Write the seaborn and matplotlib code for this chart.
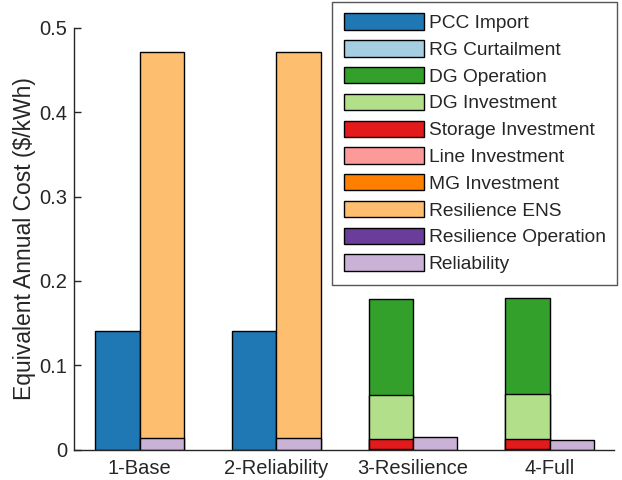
import numpy as np
import pandas as pd
import matplotlib
matplotlib.use("Agg")
import matplotlib.pyplot as plt
from matplotlib.patches import Patch
import seaborn as sns

# ---------------- data ----------------
scenarios = ["1-Base", "2-Reliability", "3-Resilience", "4-Full"]

# left bar components (legend order)
pcc_import = [0.140, 0.140, 0.0, 0.0]
rg_curtailment = [0.0, 0.0, 0.0, 0.0]
dg_operation = [0.0, 0.0, 0.1135, 0.1143]
dg_investment = [0.0, 0.0, 0.0526, 0.0541]
storage_investment = [0.0, 0.0, 0.0112, 0.0109]
line_investment = [0.0, 0.0, 0.0, 0.0]
mg_investment = [0.0, 0.0, 0.0010, 0.0010]
# right bar components
resilience_ens = [0.4568, 0.4570, 0.0, 0.0]
resilience_operation = [0.0, 0.0, 0.0, 0.0]
reliability = [0.0142, 0.0140, 0.0154, 0.0114]

labels = ["PCC Import", "RG Curtailment", "DG Operation", "DG Investment",
          "Storage Investment", "Line Investment", "MG Investment",
          "Resilience ENS", "Resilience Operation", "Reliability"]
colors = ["#1f78b4", "#a6cee3", "#33a02c", "#b2df8a", "#e31a1c",
          "#fb9a99", "#ff7f00", "#fdbf6f", "#6a3d9a", "#cab2d6"]

left_series = [pcc_import, rg_curtailment, dg_operation, dg_investment,
               storage_investment, line_investment, mg_investment]
right_series = [resilience_ens, resilience_operation, reliability]

# ---------------- style ----------------
sns.set_style("white")
plt.rcParams["font.family"] = ["Liberation Sans", "DejaVu Sans"]
text_color = "#262626"

fig = plt.figure(figsize=(6.22, 4.8), dpi=100)
ax = fig.add_axes([74 / 622, 1 - 449.5 / 480, (614 - 74) / 622, (449.5 - 28) / 480])

bar_w = 0.325
group_pos = np.arange(1, len(scenarios) + 1)


# Use seaborn barplot to draw each cumulative layer on a native numeric axis
def draw_stack_sns(series_list, color_list, offset):
    n = len(series_list)
    cum_layers = []
    cum = np.zeros(len(scenarios))
    # stacked in reverse legend order (last series at the bottom)
    for i in range(n - 1, -1, -1):
        cum = cum + np.array(series_list[i])
        cum_layers.append((i, cum.copy(), np.array(series_list[i])))
    # draw tallest cumulative layer first, lower layers overlay it
    for i, top, vals in cum_layers[::-1]:
        mask = vals > 0
        if not mask.any():
            continue
        xs = list((group_pos + offset)[mask]) + [0.0, bar_w]
        ys = list(top[mask]) + [0.0, 0.0]
        sns.barplot(x=xs, y=ys, native_scale=True, width=1.0, color=color_list[i],
                    saturation=1, edgecolor="black", linewidth=1.0,
                    errorbar=None, ax=ax, zorder=2)


draw_stack_sns(left_series, colors[:7], -bar_w / 2)
draw_stack_sns(right_series, colors[7:], bar_w / 2)

ax.set_xlim(0.52, 4.47)
ax.set_ylim(0, 0.5)
ax.set_xticks(group_pos)
ax.set_xticklabels(scenarios)
ax.set_yticks([0, 0.1, 0.2, 0.3, 0.4, 0.5])
ax.set_yticklabels(["0", "0.1", "0.2", "0.3", "0.4", "0.5"])

for side in ["top", "right"]:
    ax.spines[side].set_visible(False)
for side in ["left", "bottom"]:
    ax.spines[side].set_color(text_color)
    ax.spines[side].set_linewidth(1.0)
    ax.spines[side].set_zorder(3)

ax.tick_params(axis="y", direction="in", length=5, width=1.0, colors=text_color,
               labelsize=14.5, pad=5, left=True)
ax.tick_params(axis="x", direction="in", length=0, colors=text_color,
               labelsize=14.5, pad=7, bottom=True)
ax.set_ylabel("Equivalent Annual Cost ($/kWh)", fontsize=16.5, color=text_color,
              labelpad=2)

handles = [Patch(facecolor=c, edgecolor="black", linewidth=1.0) for c in colors]
leg = ax.legend(handles, labels, loc="upper right",
                bbox_to_anchor=(617 / 622, 1 - 2 / 480),
                bbox_transform=fig.transFigure, borderaxespad=0,
                fontsize=13.75, handlelength=4.19, handleheight=0.94,
                handletextpad=0.26, labelspacing=0.42, borderpad=0.6,
                fancybox=False, framealpha=1, edgecolor="#555555")
leg.get_frame().set_linewidth(1.0)
for t in leg.get_texts():
    t.set_color(text_color)

fig.savefig("out.png", dpi=100)
